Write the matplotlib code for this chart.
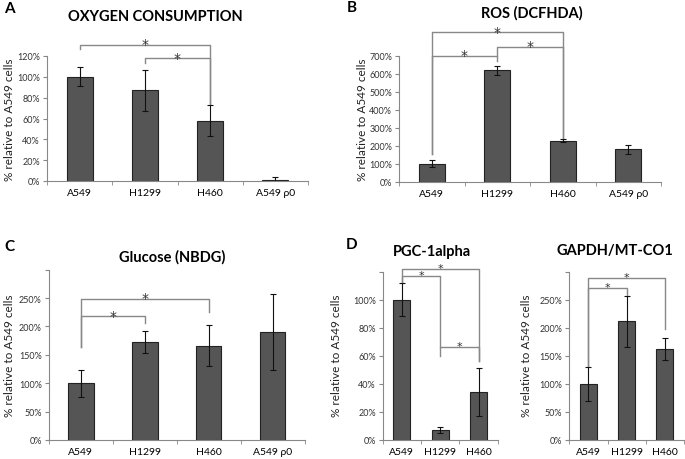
import matplotlib
matplotlib.use("Agg")
import matplotlib.pyplot as plt
import numpy as np

plt.rcParams['font.family'] = ['Lato', 'DejaVu Sans']

# data
cells4 = ["A549", "H1299", "H460", "A549 ρ0"]
cells3 = ["A549", "H1299", "H460"]

oxy_vals = [100, 87, 58, 1]
oxy_err = [9, 20, 15, 3]

ros_vals = [100, 620, 228, 180]
ros_err = [18, 25, 10, 25]

glu_vals = [100, 173, 166, 190]
glu_err = [24, 19, 36, 67]

pgc_vals = [100, 7, 34]
pgc_err = [12, 2, 17]

gapdh_vals = [100, 211, 162]
gapdh_err = [30, 46, 20]

# brackets: (i, j, height, left leg end, right leg end)
oxy_br = [(0, 2, 131, 127, 74), (1, 2, 118, 113, 74)]
ros_br = [(0, 2, 830, 154, 240), (0, 1, 700, 154, 672), (1, 2, 750, 700, 240)]
glu_br = [(0, 2, 249, 163, 225), (0, 1, 218, 163, 206)]
pgc_br = [(0, 2, 121.5, 112, 56), (0, 1, 116.5, 112, 66), (1, 2, 66, 60, 56)]
gapdh_br = [(0, 2, 289, 132, 198), (0, 1, 271, 132, 257)]

W, H = 685, 460
fig = plt.figure(figsize=(6.85, 4.6), dpi=100)


def make_ax(l, r, b, t):
    return fig.add_axes([l / W, 1 - b / H, (r - l) / W, (b - t) / H])


def panel(ax, cats, vals, errs, ymax, step, brackets, title, title_xy, barw=0.4,
          lab_ticks=None, star=10, star_off=-2.6):
    x = np.arange(len(cats))
    ax.bar(x, vals, width=barw, color="#555555", edgecolor="#222222", linewidth=0.8, zorder=2)
    ax.errorbar(x, vals, yerr=errs, fmt="none", ecolor="#111111", elinewidth=0.8,
                capsize=2.5, capthick=0.8, zorder=3)
    ax.set_xlim(-0.5, len(cats) - 0.5)
    ax.set_ylim(0, ymax)
    ticks = np.arange(0, ymax + 0.1, step)
    ax.set_yticks(ticks)
    labels = ["%d%%" % t for t in ticks]
    if lab_ticks is not None:
        labels = [l if t <= lab_ticks else "" for l, t in zip(labels, ticks)]
    ax.set_yticklabels(labels, fontsize=6.5, color="#333333")
    ax.set_xticks(x)
    ax.set_xticklabels(cats, fontsize=7.5)
    ax.set_xticks(np.arange(len(cats) + 1) - 0.5, minor=True)
    ax.tick_params(axis="x", which="major", length=0, pad=5)
    ax.tick_params(axis="x", which="minor", length=3, color="#888888")
    ax.tick_params(axis="y", length=3, color="#888888", pad=2)
    for s in ["top", "right"]:
        ax.spines[s].set_visible(False)
    ax.spines["left"].set_color("#888888")
    ax.spines["bottom"].set_color("#888888")
    for (i, j, h, li, rj) in brackets:
        ax.plot([i, i, j, j], [li, h, h, rj], color="#888888", lw=1.0, clip_on=False, zorder=1)
        ax.annotate("*", ((i + j) / 2, h), xytext=(0, star_off), textcoords="offset points",
                    ha="center", va="baseline", fontsize=star, color="#333333",
                    family="DejaVu Sans", annotation_clip=False)
    fig.text(title_xy[0] / W, 1 - title_xy[1] / H, title, ha="center", va="center",
             fontsize=10.5, fontweight="bold")


axA = make_ax(47, 308, 182, 57)
panel(axA, cells4, oxy_vals, oxy_err, 120, 20, oxy_br, "OXYGEN CONSUMPTION", (155, 17))

axB = make_ax(399, 661, 182.7, 56.7)
panel(axB, cells4, ros_vals, ros_err, 700, 100, ros_br, "ROS (DCFHDA)", (532, 13))

axC = make_ax(48.7, 304.7, 441, 270.7)
panel(axC, cells4, glu_vals, glu_err, 300, 50, glu_br, "Glucose (NBDG)", (172, 257), lab_ticks=250)

axD1 = make_ax(382.7, 497.7, 441, 272.5)
panel(axD1, cells3, pgc_vals, pgc_err, 120, 20, pgc_br, "PGC-1alpha", (432, 252), barw=0.45,
      lab_ticks=100, star=8, star_off=-1.5)

axD2 = make_ax(569.3, 684, 441, 272.5)
panel(axD2, cells3, gapdh_vals, gapdh_err, 300, 50, gapdh_br, "GAPDH/MT-CO1", (615, 251), barw=0.45,
      lab_ticks=250, star=8, star_off=-1.5)

# y labels
for (xp, yp) in [(10, 120), (363, 120), (10, 356), (337, 356), (527, 356)]:
    fig.text(xp / W, 1 - yp / H, "% relative to A549 cells", rotation=90,
             ha="center", va="center", fontsize=8.5, color="#222222")

# panel letters
for (lab, xp, yp) in [("A", 9, 9), ("B", 352, 8), ("C", 9, 247), ("D", 352, 245)]:
    fig.text(xp / W, 1 - yp / H, lab, ha="center", va="center", fontsize=11, fontweight="bold")

fig.savefig("out.png", dpi=100)
